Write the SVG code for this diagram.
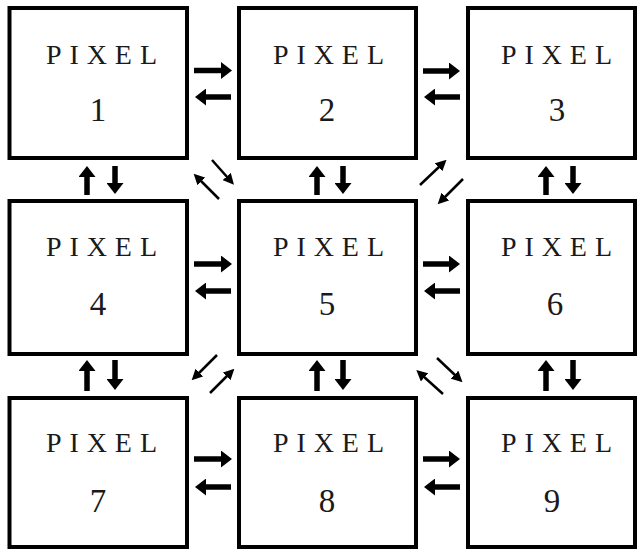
<svg xmlns="http://www.w3.org/2000/svg" width="637" height="551" viewBox="0 0 637 551">
<style>
.box{fill:#fff;stroke:#000;stroke-width:4}
.lbl{font-family:"Liberation Serif","Times New Roman",serif;font-size:28px;fill:#1a1a1a}
.num{font-family:"Liberation Serif","Times New Roman",serif;font-size:33px;fill:#1a1a1a;text-anchor:middle}
.hv{stroke:#000;stroke-width:5.5;fill:none;marker-end:url(#hh)}
.dg{stroke:#000;stroke-width:2.5;fill:none;marker-end:url(#th)}
</style>
<defs>
<marker id="hh" markerUnits="userSpaceOnUse" markerWidth="11" markerHeight="17" viewBox="0 0 11 17" refX="2" refY="8.5" orient="auto"><path d="M0,0 L11,8.5 L0,17 z" fill="#000"/></marker>
<marker id="th" markerUnits="userSpaceOnUse" markerWidth="11" markerHeight="11" viewBox="0 0 11 11" refX="2" refY="5.5" orient="auto"><path d="M0,0 L11,5.5 L0,11 z" fill="#000"/></marker>
</defs>
<rect width="637" height="551" fill="#fff"/>
<g id="pixel1"><rect class="box" x="9.5" y="8" width="177.5" height="150"/><text class="lbl" x="46" y="64" textLength="111" lengthAdjust="spacing">PIXEL</text><text class="num" x="98" y="121">1</text></g>
<g id="pixel2"><rect class="box" x="239" y="8" width="177" height="150"/><text class="lbl" x="273" y="64" textLength="111" lengthAdjust="spacing">PIXEL</text><text class="num" x="327" y="121">2</text></g>
<g id="pixel3"><rect class="box" x="468" y="8" width="167" height="150"/><text class="lbl" x="501" y="64" textLength="111" lengthAdjust="spacing">PIXEL</text><text class="num" x="557" y="121">3</text></g>
<g id="pixel4"><rect class="box" x="9.5" y="201" width="177.5" height="153"/><text class="lbl" x="46" y="256" textLength="111" lengthAdjust="spacing">PIXEL</text><text class="num" x="98" y="315">4</text></g>
<g id="pixel5"><rect class="box" x="239" y="201" width="177" height="153"/><text class="lbl" x="273" y="256" textLength="111" lengthAdjust="spacing">PIXEL</text><text class="num" x="327" y="315">5</text></g>
<g id="pixel6"><rect class="box" x="468" y="201" width="167" height="153"/><text class="lbl" x="501" y="256" textLength="111" lengthAdjust="spacing">PIXEL</text><text class="num" x="555" y="315">6</text></g>
<g id="pixel7"><rect class="box" x="9.5" y="398" width="177.5" height="149"/><text class="lbl" x="46" y="452" textLength="111" lengthAdjust="spacing">PIXEL</text><text class="num" x="98" y="512">7</text></g>
<g id="pixel8"><rect class="box" x="239" y="398" width="177" height="149"/><text class="lbl" x="273" y="452" textLength="111" lengthAdjust="spacing">PIXEL</text><text class="num" x="327" y="512">8</text></g>
<g id="pixel9"><rect class="box" x="468" y="398" width="167" height="149"/><text class="lbl" x="501" y="452" textLength="111" lengthAdjust="spacing">PIXEL</text><text class="num" x="552" y="512">9</text></g>
<g id="connectors">
<line class="hv" x1="194" y1="70.5" x2="223" y2="70.5"/>
<line class="hv" x1="231" y1="97" x2="204" y2="97"/>
<line class="hv" x1="423" y1="71" x2="451" y2="71"/>
<line class="hv" x1="460" y1="97" x2="433" y2="97"/>
<line class="hv" x1="194" y1="264" x2="223" y2="264"/>
<line class="hv" x1="231" y1="291" x2="204" y2="291"/>
<line class="hv" x1="423" y1="264" x2="451" y2="264"/>
<line class="hv" x1="460" y1="291" x2="433" y2="291"/>
<line class="hv" x1="194" y1="459" x2="223" y2="459"/>
<line class="hv" x1="231" y1="487" x2="204" y2="487"/>
<line class="hv" x1="423" y1="459" x2="451" y2="459"/>
<line class="hv" x1="460" y1="487" x2="433" y2="487"/>
<line class="hv" x1="87" y1="195" x2="87" y2="175"/>
<line class="hv" x1="115" y1="166" x2="115" y2="185"/>
<line class="hv" x1="317" y1="195" x2="317" y2="175"/>
<line class="hv" x1="343" y1="166" x2="343" y2="185"/>
<line class="hv" x1="546" y1="195" x2="546" y2="175"/>
<line class="hv" x1="573" y1="166" x2="573" y2="185"/>
<line class="hv" x1="87" y1="391" x2="87" y2="369"/>
<line class="hv" x1="115" y1="360" x2="115" y2="381"/>
<line class="hv" x1="317" y1="391" x2="317" y2="369"/>
<line class="hv" x1="343" y1="360" x2="343" y2="381"/>
<line class="hv" x1="546" y1="391" x2="546" y2="369"/>
<line class="hv" x1="573" y1="360" x2="573" y2="381"/>
<line class="dg" x1="212" y1="160" x2="228" y2="178"/>
<line class="dg" x1="219" y1="199" x2="200" y2="180"/>
<line class="dg" x1="420" y1="185" x2="440" y2="166"/>
<line class="dg" x1="463" y1="179" x2="444" y2="198"/>
<line class="dg" x1="217" y1="355" x2="198" y2="374"/>
<line class="dg" x1="210" y1="393" x2="228" y2="375"/>
<line class="dg" x1="437" y1="358" x2="456" y2="376"/>
<line class="dg" x1="443" y1="394" x2="423" y2="376"/>
</g>
</svg>
